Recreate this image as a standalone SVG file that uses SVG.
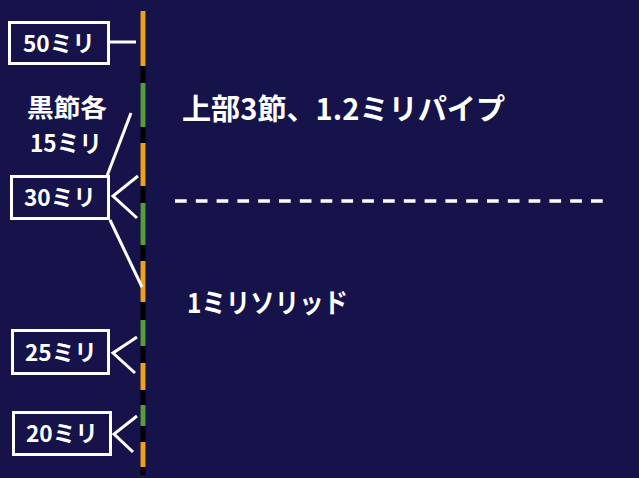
<svg xmlns="http://www.w3.org/2000/svg" width="639" height="478" viewBox="0 0 639 478">
<style>
.t{font-family:"Noto Sans CJK JP","Liberation Sans",sans-serif;font-weight:bold;fill:#fff}
.box{fill:none;stroke:#fff;stroke-width:3}
.ln{stroke:#fff;stroke-width:3;fill:none;stroke-linecap:butt}
.o{fill:#eda21f}
.g{fill:#5a9c3c}
</style>
<rect width="639" height="478" fill="#15134a"/>
<g id="rod">
<rect x="140.5" y="11" width="5" height="464" fill="#000"/>
<rect class="o" x="140.5" y="11" width="5" height="55"/>
<rect class="g" x="140.5" y="83" width="5" height="44"/>
<rect class="o" x="140.5" y="143" width="5" height="43"/>
<rect class="g" x="140.5" y="203" width="5" height="42"/>
<rect class="o" x="140.5" y="261" width="5" height="41"/>
<rect class="g" x="140.5" y="320" width="5" height="26"/>
<rect class="o" x="140.5" y="363" width="5" height="27"/>
<rect class="g" x="140.5" y="405" width="5" height="21"/>
<rect class="o" x="140.5" y="442" width="5" height="25"/>
</g>
<g id="connectors">
<line class="ln" x1="110" y1="42" x2="136" y2="42"/>
<line class="ln" x1="107" y1="176" x2="131" y2="113"/>
<polyline class="ln" points="138,176 113,196 137,218"/>
<line class="ln" x1="110" y1="220" x2="142" y2="287"/>
<polyline class="ln" points="137,337 113,353 135,373"/>
<polyline class="ln" points="137,416 114,434 133,452"/>
<line x1="175" y1="201" x2="603" y2="201" stroke="#fff" stroke-width="3.5" stroke-dasharray="11.7 9.1"/>
</g>
<g id="n50">
<rect class="box" x="9.5" y="22.5" width="99" height="41"/>
<text class="t" x="23" y="52" font-size="23" textLength="72" lengthAdjust="spacingAndGlyphs">50ミリ</text>
</g>
<g id="nblack">
<text class="t" x="27" y="117" font-size="25" textLength="80" lengthAdjust="spacingAndGlyphs">黒節各</text>
<text class="t" x="30" y="152" font-size="24" textLength="72" lengthAdjust="spacingAndGlyphs">15ミリ</text>
</g>
<g id="n30">
<rect class="box" x="11.5" y="176.5" width="97" height="42"/>
<text class="t" x="24" y="206" font-size="23" textLength="72" lengthAdjust="spacingAndGlyphs">30ミリ</text>
</g>
<g id="n25">
<rect class="box" x="12.5" y="330.5" width="96" height="43"/>
<text class="t" x="25" y="361" font-size="23" textLength="72" lengthAdjust="spacingAndGlyphs">25ミリ</text>
</g>
<g id="n20">
<rect class="box" x="13.5" y="412.5" width="97" height="42"/>
<text class="t" x="26" y="442" font-size="23" textLength="72" lengthAdjust="spacingAndGlyphs">20ミリ</text>
</g>
<g id="title">
<text class="t" x="182" y="120" font-size="29" textLength="323" lengthAdjust="spacingAndGlyphs">上部3節、1.2ミリパイプ</text>
</g>
<g id="solid">
<text class="t" x="187" y="313" font-size="27" textLength="161" lengthAdjust="spacingAndGlyphs">1ミリソリッド</text>
</g>
</svg>
